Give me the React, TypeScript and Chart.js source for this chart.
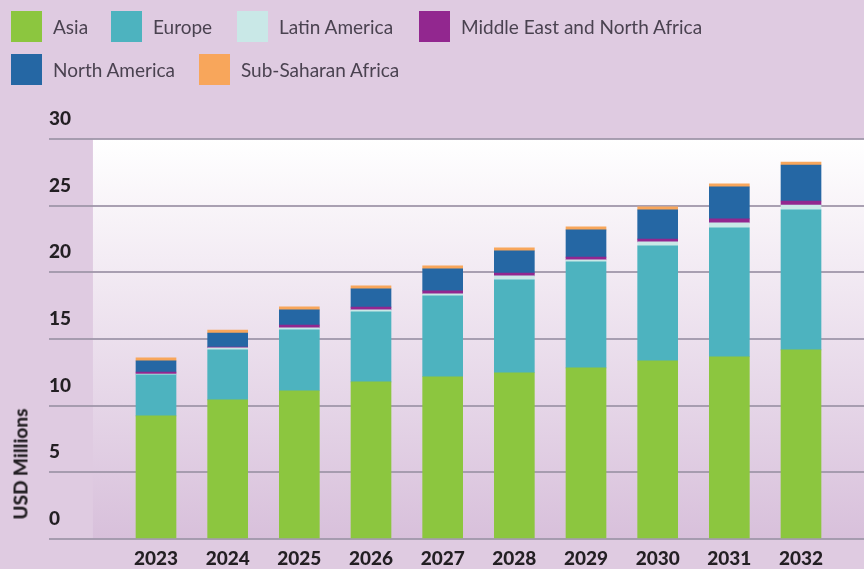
import { useEffect, useRef } from "react";
import { Chart, registerables } from "chart.js";

Chart.register(...registerables);

const YEARS = ["2023", "2024", "2025", "2026", "2027", "2028", "2029", "2030", "2031", "2032"];
const SERIES_NAMES = ["Asia", "Europe", "Latin America", "Middle East and North Africa", "North America", "Sub-Saharan Africa"];
const ASIA = [9.24, 10.44, 11.12, 11.79, 12.17, 12.47, 12.84, 13.37, 13.67, 14.19];
const EUROPE = [3.07, 3.75, 4.57, 5.25, 6.07, 6.97, 7.95, 8.62, 9.67, 10.49];
const LATIN_AMERICA = [0.05, 0.15, 0.15, 0.15, 0.15, 0.3, 0.15, 0.3, 0.37, 0.37];
const MENA = [0.15, 0.05, 0.2, 0.2, 0.22, 0.2, 0.2, 0.2, 0.3, 0.3];
const NORTH_AMERICA = [0.85, 1.05, 1.15, 1.37, 1.65, 1.67, 2.05, 2.2, 2.4, 2.7];
const SUB_SAHARAN = [0.22, 0.22, 0.22, 0.22, 0.22, 0.22, 0.22, 0.22, 0.22, 0.22];
const Y_TICKS_STEP = 5;
const Y_MAX = 30;

const COLORS = ["#8cc63f", "#4db3bf", "#c9e8e7", "#92278f", "#2567a4", "#f8a65b"];
const VALUES = [ASIA, EUROPE, LATIN_AMERICA, MENA, NORTH_AMERICA, SUB_SAHARAN];

const FONT = 'Lato, "Noto Sans", sans-serif';
const AXIS_COLOR = "#231f23";
const GRID_COLOR = "rgba(160,151,170,0.9)";

// legend layout (px)
const LEGEND_ROWS = [
  [
    { i: 0, left: 11 },
    { i: 1, left: 111 },
    { i: 2, left: 237 },
    { i: 3, left: 419 },
  ],
  [
    { i: 4, left: 11 },
    { i: 5, left: 199 },
  ],
];
const LEGEND_TOPS = [11, 54];

export default function App() {
  const ref = useRef<HTMLCanvasElement>(null);

  useEffect(() => {
    if (!ref.current) return;
    const plotBg = {
      id: "plotBg",
      beforeDraw(chart: any) {
        const { ctx, chartArea, scales } = chart;
        const x0 = scales.x.getPixelForValue(-0.88);
        const g = ctx.createLinearGradient(0, chartArea.top, 0, chartArea.bottom);
        g.addColorStop(0, "#ffffff");
        g.addColorStop(1, "#d8c0db");
        ctx.save();
        ctx.fillStyle = g;
        ctx.fillRect(x0, chartArea.top, chartArea.right - x0, chartArea.bottom - chartArea.top);
        ctx.restore();
      },
    };

    const chart = new Chart(ref.current, {
      type: "bar",
      data: {
        datasets: VALUES.map((vals, k) => ({
          label: SERIES_NAMES[k],
          data: vals.map((v, i) => ({ x: i, y: v })),
          backgroundColor: COLORS[k],
          borderWidth: 0,
          barThickness: 40,
        })),
      },
      options: {
        animation: false,
        responsive: false,
        layout: { padding: { top: 139, left: 0, right: 0, bottom: 0 } },
        plugins: { legend: { display: false }, tooltip: { enabled: false } },
        scales: {
          x: {
            type: "linear",
            stacked: true,
            offset: false,
            bounds: "data",
            min: -1.493,
            max: 9.879,
            grid: { display: false },
            border: { display: false },
            afterBuildTicks: (s: any) => {
              s.ticks = YEARS.map((_, i) => ({ value: i }));
            },
            afterFit: (s: any) => {
              s.height = 30;
              s.paddingLeft = 0;
              s.paddingRight = 0;
            },
            ticks: {
              callback: (v: any) => YEARS[v as number],
              font: { family: FONT, size: 19, weight: "900" },
              color: AXIS_COLOR,
              padding: 0,
              maxRotation: 0,
              autoSkip: false,
            },
          },
          y: {
            stacked: true,
            min: 0,
            max: Y_MAX,
            afterFit: (s: any) => {
              s.width = 49;
              s.paddingTop = 0;
              s.paddingBottom = 0;
            },
            grid: { color: GRID_COLOR, lineWidth: 2, drawTicks: false },
            border: { display: false },
            ticks: {
              stepSize: Y_TICKS_STEP,
              mirror: true,
              padding: 0,
              labelOffset: -20,
              font: { family: FONT, size: 19, weight: "900" },
              color: AXIS_COLOR,
            },
          },
        },
      } as any,
      plugins: [plotBg],
    });
    return () => chart.destroy();
  }, []);

  return (
    <div
      style={{
        position: "absolute",
        left: 0,
        top: 0,
        width: 864,
        height: 569,
        background: "#dfcbe1",
        overflow: "hidden",
        fontFamily: FONT,
      }}
    >
      <canvas ref={ref} width={864} height={569} style={{ position: "absolute", left: 0, top: 0 }} />
      {LEGEND_ROWS.map((row, r) =>
        row.map((item) => (
          <div
            key={item.i}
            style={{
              position: "absolute",
              left: item.left,
              top: LEGEND_TOPS[r],
              height: 31,
              display: "flex",
              alignItems: "center",
              whiteSpace: "nowrap",
            }}
          >
            <span style={{ width: 31, height: 31, background: COLORS[item.i], display: "inline-block" }} />
            <span style={{ marginLeft: 11, fontSize: 19, color: "#4a4250" }}>{SERIES_NAMES[item.i]}</span>
          </div>
        ))
      )}
      <div
        style={{
          position: "absolute",
          left: 20,
          top: 464,
          transform: "translate(-50%, -50%) rotate(-90deg)",
          whiteSpace: "nowrap",
          fontSize: 19,
          fontWeight: 900,
          color: AXIS_COLOR,
        }}
      >
        USD Millions
      </div>
    </div>
  );
}
